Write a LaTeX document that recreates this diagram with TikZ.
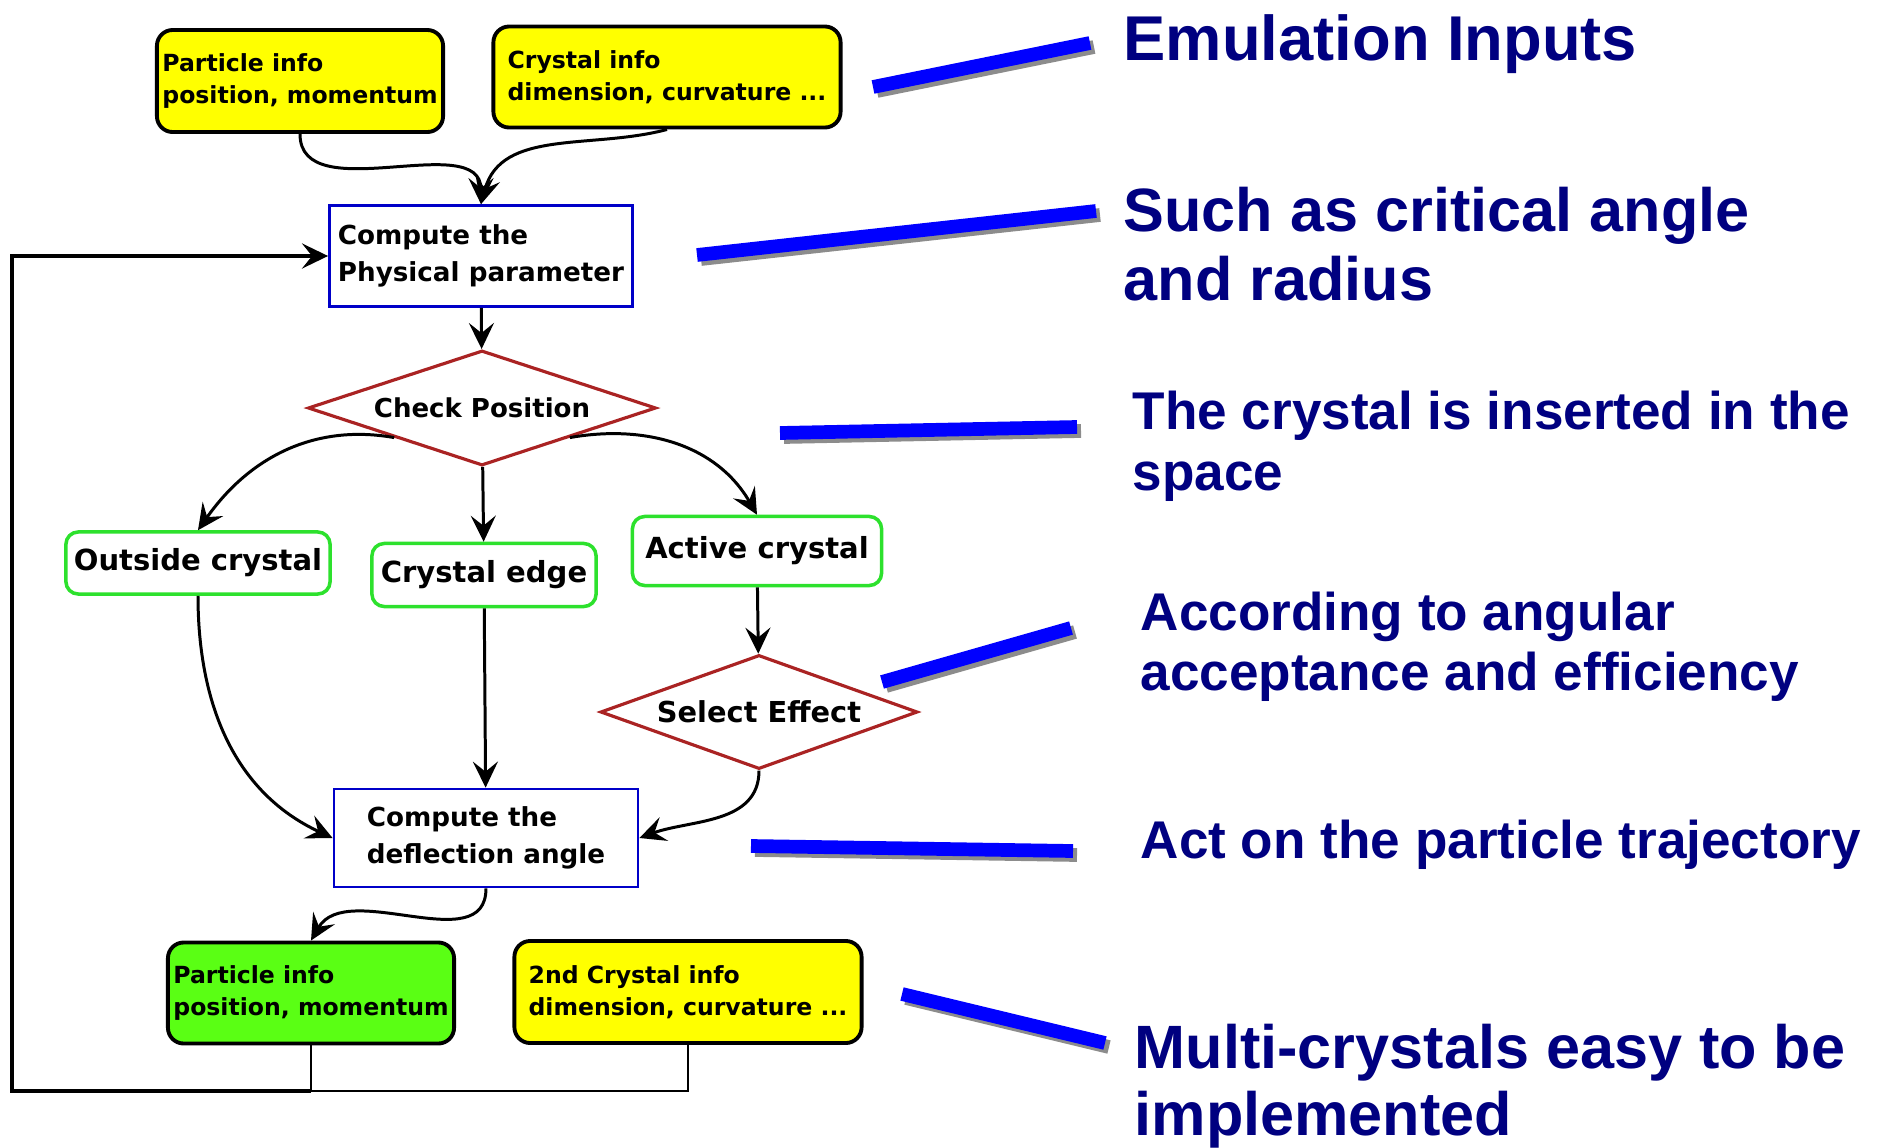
\documentclass[tikz,border=0pt]{standalone}
\usepackage{fontspec}
\setmainfont{DejaVu Sans}
\newfontfamily\notefont{Liberation Sans}
\usepackage{xcolor}
\usetikzlibrary{arrows.meta,shapes.geometric}

\definecolor{infoyel}{RGB}{255,255,0}
\definecolor{infogrn}{RGB}{90,255,20}
\definecolor{stategrn}{RGB}{45,225,45}
\definecolor{decred}{RGB}{170,35,35}
\definecolor{compblue}{RGB}{0,0,200}
\definecolor{notenavy}{RGB}{0,0,128}
\definecolor{ptrblue}{RGB}{0,0,255}

\begin{document}
\begin{tikzpicture}[
  x=0.01cm, y=0.01cm,
  ibox/.style={draw=black, line width=1.1pt, fill=infoyel, rounded corners=4.5pt,
               align=left, inner sep=0pt, font=\bfseries\fontsize{6.7}{9.2}\selectfont},
  cbox/.style={draw=compblue, line width=0.75pt, align=left, inner sep=0pt,
               font=\bfseries\fontsize{7.45}{10.5}\selectfont},
  sbox/.style={draw=stategrn, line width=1pt, rounded corners=3.5pt, inner sep=0pt,
               font=\bfseries\fontsize{8.26}{10}\selectfont},
  dbox/.style={diamond, aspect=3, draw=decred, line width=0.9pt, inner sep=0pt},
  ar/.style={-{Stealth[length=2.6mm, width=2.5mm, inset=1mm]}, line width=0.85pt},
  loopln/.style={line width=1.15pt},
  thinln/.style={line width=0.6pt},
  ptr/.style={line width=3.9pt, ptrblue},
  ptrsh/.style={line width=3.9pt, black!45},
  note/.style={anchor=base west, align=left, inner sep=0pt, text=notenavy},
]
\useasboundingbox (0,0) rectangle (1884,-1148);

% inputs and flow boxes
\node[ibox, minimum width=2.86cm, minimum height=1.02cm] (pin) at (300,-81)
     {Particle info\\position, momentum};
\node[ibox, minimum width=3.47cm, minimum height=1.01cm] (cin) at (667,-77)
     {Crystal info\\dimension, curvature ...};
\node[cbox, minimum width=3.03cm, minimum height=1.01cm] (phys) at (481,-256)
     {Compute the\\Physical parameter};
\node[dbox, minimum width=3.48cm, minimum height=1.15cm,
      font=\bfseries\fontsize{7.4}{9}\selectfont] (chk) at (482,-408) {Check Position};
\node[sbox, minimum width=2.64cm, minimum height=0.62cm] (outc) at (198,-563) {Outside crystal};
\node[sbox, minimum width=2.24cm, minimum height=0.63cm] (edge) at (484,-575) {Crystal edge};
\node[sbox, minimum width=2.49cm, minimum height=0.69cm] (actv) at (757,-551) {Active crystal};
\node[dbox, minimum width=3.17cm, minimum height=1.14cm,
      font=\bfseries\fontsize{8.2}{10}\selectfont] (sel) at (759,-712) {Select Effect};
\node[cbox, minimum width=3.04cm, minimum height=0.98cm] (defl) at (486,-838)
     {Compute the\\deflection angle};
\node[ibox, fill=infogrn, minimum width=2.86cm, minimum height=1.01cm] (pout) at (311,-993)
     {Particle info\\position, momentum};
\node[ibox, minimum width=3.47cm, minimum height=1.02cm] (cin2) at (688,-992)
     {2nd Crystal info\\dimension, curvature ...};

% connectors
\draw[ar] (pin.south) to[out=-90,in=90] (phys.north);
\draw[ar] (cin.south) to[out=195,in=75] (phys.north);
\foreach \a/\b in {phys/chk, chk/edge, edge/defl, actv/sel}
  \draw[ar] (\a) -- (\b);
\draw[ar] (chk.south west) to[out=170,in=55] (outc.north);
\draw[ar] (chk.south east) to[out=10,in=120] (actv.north);
\draw[ar] (outc.south) to[out=-90,in=155] (defl.west);
\draw[ar] (sel.south) to[out=-90,in=20] (defl.east);
\draw[ar] (defl.south) to[out=-90,in=60] (pout.north);

% loop back
\coordinate (jn) at (311,-1091);
\coordinate (lc) at (12,-1091);
\draw[thinln] (pout.south) -- (jn);
\draw[thinln] (cin2.south) |- (jn);
\draw[ar, loopln] (jn) -- (lc) |- (phys.west);

% pointers
\foreach \xa/\ya/\xb/\yb in {873/-87/1090/-43, 697/-255/1096/-211, 780/-433/1077/-427,
                             882/-682/1071/-628, 751/-846/1073/-851, 902/-994/1105/-1043} {
  \draw[ptrsh, shift={(4,-4)}] (\xa,\ya) -- (\xb,\yb);
  \draw[ptr] (\xa,\ya) -- (\xb,\yb);
}

% notes (base = last line)
\node[note, font=\notefont\bfseries\fontsize{18}{20}\selectfont] (n1) at (1123,-60)
     {Emulation Inputs};
\node[note, font=\notefont\bfseries\fontsize{17.4}{19.35}\selectfont] (n2) at (1123,-300)
     {Such as critical angle\\and radius};
\node[note, font=\notefont\bfseries\fontsize{15.1}{17.1}\selectfont] (n3) at (1132,-490)
     {The crystal is inserted in the\\space};
\node[note, font=\notefont\bfseries\fontsize{15.1}{16.8}\selectfont] (n4) at (1140,-690)
     {According to angular\\acceptance and efficiency};
\node[note, font=\notefont\bfseries\fontsize{15.1}{17}\selectfont] (n5) at (1140,-858)
     {Act on the particle trajectory};
\node[note, font=\notefont\bfseries\fontsize{17.4}{18.8}\selectfont] (n6) at (1134,-1135)
     {Multi-crystals easy to be\\implemented};
\end{tikzpicture}
\end{document}
